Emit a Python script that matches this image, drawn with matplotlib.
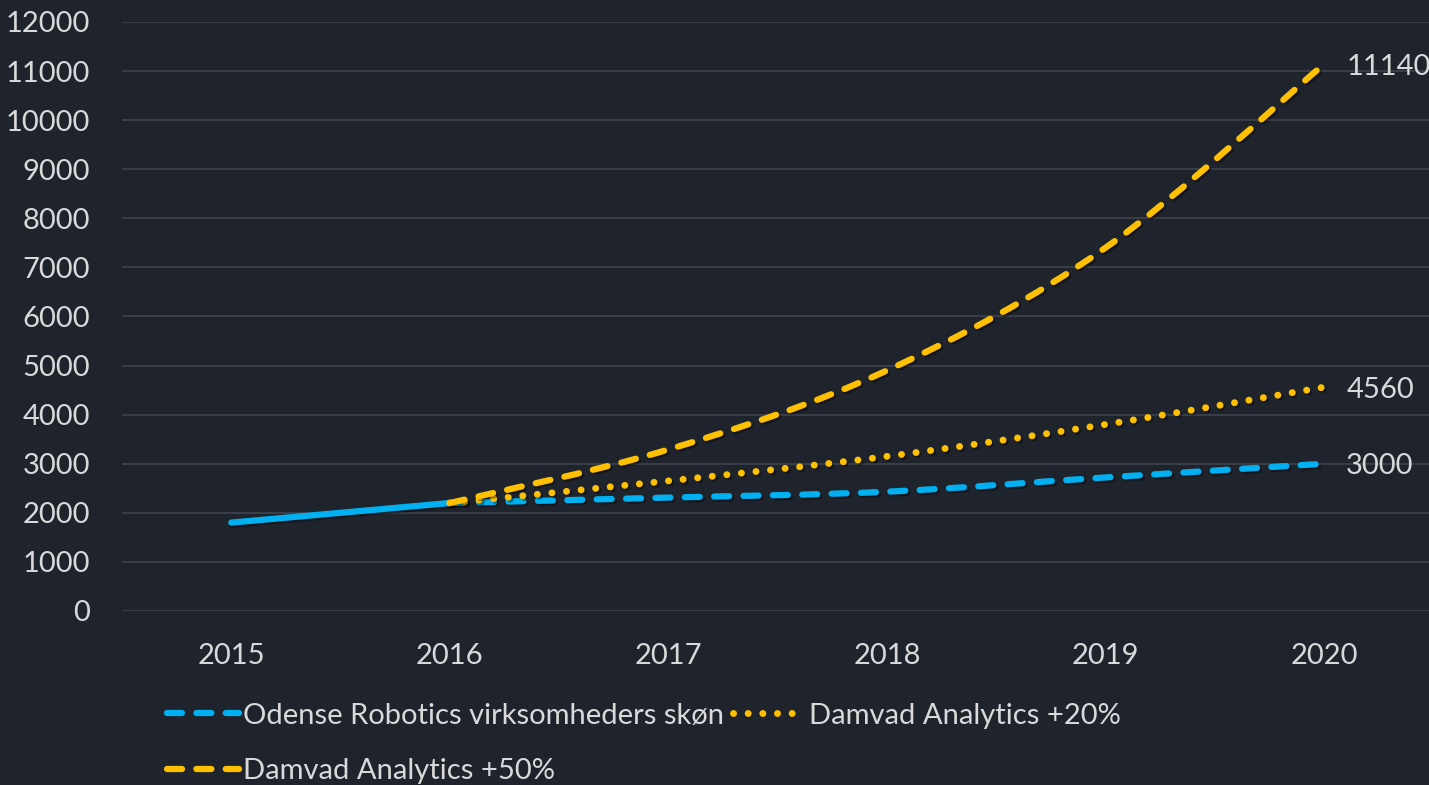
import matplotlib.pyplot as plt
from matplotlib.path import Path
from matplotlib.patches import PathPatch
from matplotlib.lines import Line2D
import matplotlib.patheffects as pe

years = ['2015', '2016', '2017', '2018', '2019', '2020']
historic = [1800, 2200]
odense = [2200, 2310, 2430, 2720, 3000]
damvad_20 = [2200, 2650, 3150, 3800, 4560]
damvad_50 = [2200, 3290, 4900, 7400, 11140]

BG = '#1f232c'
TXT = '#d9d9d9'
BLUE = '#00b0f0'
YELLOW = '#ffc000'

plt.rcParams['font.family'] = ['Lato', 'DejaVu Sans']
plt.rcParams['font.size'] = 21


def smooth_path(xs, ys):
    # excel style smoothed line: bezier segments through the data points
    pts = list(zip(xs, ys))
    verts = [pts[0]]
    codes = [Path.MOVETO]
    n = len(pts)
    for i in range(n - 1):
        p0 = pts[max(i - 1, 0)]
        p1 = pts[i]
        p2 = pts[i + 1]
        p3 = pts[min(i + 2, n - 1)]
        c1 = (p1[0] + (p2[0] - p0[0]) / 6, p1[1] + (p2[1] - p0[1]) / 6)
        c2 = (p2[0] - (p3[0] - p1[0]) / 6, p2[1] - (p3[1] - p1[1]) / 6)
        verts += [c1, c2, p2]
        codes += [Path.CURVE4] * 3
    return Path(verts, codes)


shadow = [pe.SimpleLineShadow(offset=(1.5, -1.5), shadow_color='black', alpha=0.35), pe.Normal()]

DASH = (0, (2.4, 2.3))
DOT = (0, (0.01, 2.1))
LW = 4.5

fig = plt.figure(figsize=(14.29, 7.85), dpi=100, facecolor=BG)
ax = fig.add_axes([0.0854, 0.2217, 0.9176, 0.7503], facecolor=BG)

x_hist = [0, 1]
x_fc = [1, 2, 3, 4, 5]

series = [
    (x_hist, historic, BLUE, LW, 'solid'),
    (x_fc, odense, BLUE, LW, DASH),
    (x_fc, damvad_20, YELLOW, 5.0, DOT),
    (x_fc, damvad_50, YELLOW, LW, DASH),
]
for xs, ys, col, lw, ls in series:
    patch = PathPatch(smooth_path(xs, ys), fill=False, edgecolor=col, lw=lw,
                      linestyle=ls, capstyle='round', joinstyle='round', zorder=3)
    patch.set_path_effects(shadow)
    ax.add_patch(patch)

for vals in [damvad_50, damvad_20, odense]:
    ax.annotate(str(vals[-1]), (5, vals[-1]), xytext=(16, -2), textcoords='offset points',
                color=TXT, va='center', ha='left', annotation_clip=False)

ax.set_xlim(-0.5, 5.5)
ax.set_ylim(0, 12000)
ax.set_xticks(range(len(years)))
ax.set_xticklabels(years)
ax.set_yticks(range(0, 12001, 1000))
ax.tick_params(colors=TXT, length=0, labelsize=21)
ax.tick_params(axis='x', pad=23)
ax.tick_params(axis='y', pad=23)
for s in ax.spines.values():
    s.set_visible(False)
ax.grid(axis='y', color='#3c404a', lw=1.3)
ax.set_axisbelow(True)

# column-wise fill: odense, +50% in first column, +20% in second
handles = [
    Line2D([], [], color=BLUE, lw=LW, ls=DASH, dash_capstyle='round'),
    Line2D([], [], color=YELLOW, lw=LW, ls=DASH, dash_capstyle='round'),
    Line2D([], [], color=YELLOW, lw=5.0, ls=DOT, dash_capstyle='round'),
]
labels = ['Odense Robotics virksomheders skøn', 'Damvad Analytics +50%', 'Damvad Analytics +20%']
leg = fig.legend(handles, labels, loc='upper left', bbox_to_anchor=(0.117, 0.105),
                 ncol=2, frameon=False, labelcolor=TXT, handlelength=2.45,
                 handletextpad=0.15, columnspacing=0.3, labelspacing=1.0,
                 borderaxespad=0, borderpad=0)

fig.savefig('out.png', dpi=100, facecolor=BG)
